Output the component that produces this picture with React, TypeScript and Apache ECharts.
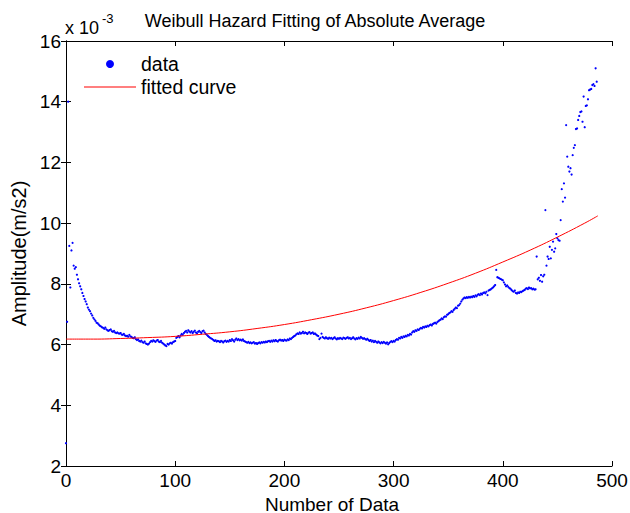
import React, { useEffect, useRef } from "react";
import * as echarts from "echarts";

// Amplitude values (x 10^-3 m/s2), one per data index 0..486
const amplitude: number[] = [
  2.75, 6.75, 14.0, 9.25, 7.88, 9.10, 9.35, 8.60, 8.50, 8.55,
  8.30, 8.15, 8.02, 7.92, 7.82, 7.70, 7.60, 7.50, 7.42, 7.33,
  7.22, 7.15, 7.10, 7.02, 6.96, 6.88, 6.83, 6.78, 6.72, 6.70,
  6.66, 6.62, 6.60, 6.57, 6.55, 6.52, 6.56, 6.50, 6.47, 6.45,
  6.48, 6.50, 6.44, 6.42, 6.45, 6.40, 6.38, 6.40, 6.37, 6.36,
  6.38, 6.33, 6.32, 6.35, 6.30, 6.28, 6.29, 6.26, 6.32, 6.27,
  6.25, 6.22, 6.21, 6.24, 6.18, 6.15, 6.17, 6.12, 6.10, 6.13,
  6.08, 6.06, 6.10, 6.04, 6.02, 6.00, 6.03, 6.08, 6.12, 6.10,
  6.14, 6.11, 6.09, 6.13, 6.15, 6.10, 6.08, 6.12, 6.06, 6.03,
  6.00, 5.97, 5.95, 6.02, 6.00, 6.04, 6.06, 6.03, 6.08, 6.10,
  6.12, 6.22, 6.25, 6.28, 6.24, 6.30, 6.35, 6.32, 6.38, 6.42,
  6.45, 6.40, 6.47, 6.43, 6.40, 6.44, 6.38, 6.42, 6.46, 6.40,
  6.37, 6.42, 6.45, 6.41, 6.38, 6.44, 6.46, 6.40, 6.35, 6.32,
  6.28, 6.25, 6.22, 6.20, 6.18, 6.15, 6.12, 6.14, 6.10, 6.12,
  6.11, 6.08, 6.12, 6.10, 6.07, 6.11, 6.13, 6.09, 6.12, 6.10,
  6.15, 6.12, 6.18, 6.14, 6.10, 6.16, 6.20, 6.15, 6.18, 6.14,
  6.16, 6.13, 6.17, 6.12, 6.10, 6.08, 6.06, 6.09, 6.05, 6.07,
  6.04, 6.06, 6.08, 6.03, 6.05, 6.02, 6.05, 6.07, 6.04, 6.08,
  6.06, 6.09, 6.07, 6.10, 6.08, 6.11, 6.12, 6.09, 6.13, 6.10,
  6.14, 6.11, 6.15, 6.12, 6.10, 6.14, 6.16, 6.13, 6.15, 6.12,
  6.16, 6.14, 6.13, 6.17, 6.15, 6.20, 6.18, 6.22, 6.25, 6.28,
  6.30, 6.34, 6.37, 6.35, 6.40, 6.36, 6.38, 6.42, 6.37, 6.40,
  6.38, 6.35, 6.39, 6.41, 6.36, 6.38, 6.40, 6.35, 6.37, 6.33,
  6.30, 6.28, 6.18, 6.22, 6.36, 6.25, 6.22, 6.20, 6.24, 6.21,
  6.19, 6.23, 6.20, 6.22, 6.18, 6.21, 6.24, 6.20, 6.17, 6.21,
  6.19, 6.22, 6.20, 6.18, 6.23, 6.21, 6.19, 6.22, 6.24, 6.20,
  6.22, 6.18, 6.21, 6.24, 6.20, 6.17, 6.21, 6.19, 6.23, 6.20,
  6.25, 6.22, 6.19, 6.21, 6.18, 6.16, 6.19, 6.15, 6.12, 6.15,
  6.10, 6.13, 6.08, 6.12, 6.09, 6.06, 6.10, 6.07, 6.04, 6.08,
  6.05, 6.09, 6.06, 6.03, 6.07, 6.01, 6.05, 6.09, 6.11, 6.08,
  6.12, 6.10, 6.15, 6.18, 6.16, 6.22, 6.20, 6.25, 6.22, 6.27,
  6.25, 6.29, 6.27, 6.32, 6.30, 6.35, 6.33, 6.40, 6.44, 6.42,
  6.47, 6.45, 6.50, 6.48, 6.52, 6.55, 6.53, 6.58, 6.56, 6.60,
  6.58, 6.62, 6.60, 6.64, 6.66, 6.63, 6.68, 6.70, 6.72, 6.69,
  6.74, 6.77, 6.80, 6.82, 6.86, 6.84, 6.90, 6.93, 6.92, 6.98,
  7.00, 7.04, 7.06, 7.10, 7.08, 7.14, 7.18, 7.22, 7.20, 7.28,
  7.30, 7.35, 7.42, 7.48, 7.52, 7.55, 7.53, 7.56, 7.54, 7.57,
  7.55, 7.58, 7.56, 7.60, 7.57, 7.62, 7.59, 7.64, 7.66, 7.63,
  7.68, 7.65, 7.70, 7.72, 7.69, 7.74, 7.63, 7.78, 7.80, 7.82,
  7.85, 7.88, 7.92, 7.96, 8.46, 8.22, 8.20, 8.18, 8.16, 8.14,
  8.12, 8.05, 7.98, 7.92, 7.95, 7.90, 7.86, 7.84, 7.80, 7.76,
  7.74, 7.78, 7.70, 7.68, 7.72, 7.70, 7.74, 7.73, 7.76, 7.78,
  7.80, 7.84, 7.86, 7.83, 7.88, 7.85, 7.86, 7.82, 7.84, 7.81,
  7.82, 8.90, 8.15, 8.20, 8.10, 8.29, 8.07, 8.25, 8.30, 10.43,
  8.60, 8.90, 8.82, 9.22, 8.84, 9.12, 9.39, 9.06, 9.17, 9.64,
  9.50, 9.44, 9.42, 10.10, 11.12, 10.71, 11.31, 10.84, 13.23, 12.19,
  11.86, 11.70, 11.81, 11.60, 12.24, 12.48, 12.57, 13.10, 13.12, 13.40,
  13.53, 13.66, 13.68, 13.34, 14.17, 13.16, 13.86, 13.88, 14.08, 14.38,
  14.40, 14.42, 14.55, 14.58, 14.52, 15.10, 14.66,
];

// Fitted Weibull hazard curve, read at sample positions
const fitX: number[] = [0, 25, 50, 75, 100, 125, 150, 175, 200, 225, 250, 275, 300, 325, 350, 375, 400, 425, 450, 475, 487];
const fitY: number[] = [6.18, 6.18, 6.20, 6.23, 6.27, 6.34, 6.42, 6.53, 6.66, 6.82, 7.00, 7.21, 7.45, 7.72, 8.02, 8.35, 8.72, 9.11, 9.54, 10.00, 10.24];

const xTicks = { min: 0, max: 500, interval: 100 };
const yTicks = { min: 2, max: 16, interval: 2 };

const FONT = "'Liberation Sans', Arial, Helvetica, sans-serif";

export default function App() {
  const ref = useRef<HTMLDivElement>(null);
  useEffect(() => {
    document.body.style.margin = "0";
    const chart = echarts.init(ref.current!, null, { renderer: "svg" });
    const axisLine = { show: true, lineStyle: { color: "#000", width: 1 } };
    const tick = { show: true, inside: true, length: 5, lineStyle: { color: "#000", width: 1 } };
    chart.setOption({
      animation: false,
      backgroundColor: "#ffffff",
      title: {
        text: "Weibull Hazard Fitting of Absolute Average",
        left: "center",
        top: 7,
        textStyle: { fontFamily: FONT, fontSize: 18, fontWeight: "normal", color: "#000" },
      },
      legend: {
        orient: "vertical",
        left: 79,
        top: 49,
        itemWidth: 52,
        itemHeight: 8,
        itemGap: 3,
        textStyle: { fontFamily: FONT, fontSize: 19.5, color: "#000" },
        data: [
          { name: "data", icon: "circle" },
          { name: "fitted curve", icon: "path://M0,0H52V1H0Z" },
        ],
      },
      grid: { left: 66, right: 18, top: 41, bottom: 47, containLabel: false, outerBoundsMode: "none" },
      xAxis: [
        {
          type: "value",
          ...xTicks,
          position: "bottom",
          name: "Number of Data",
          nameLocation: "middle",
          nameGap: 17,
          nameTextStyle: { fontFamily: FONT, fontSize: 19, lineHeight: 20, color: "#000", padding: [0, 14, 0, 0] },
          axisLine,
          axisTick: tick,
          splitLine: { show: false },
          axisLabel: { fontFamily: FONT, fontSize: 19, color: "#000", margin: 5 },
        },
        {
          type: "value",
          ...xTicks,
          position: "top",
          axisLine,
          axisTick: tick,
          splitLine: { show: false },
          axisLabel: { show: false },
        },
      ],
      yAxis: [
        {
          type: "value",
          ...yTicks,
          position: "left",
          name: "Amplitude(m/s2)",
          nameLocation: "middle",
          nameGap: 37,
          nameTextStyle: { fontFamily: FONT, fontSize: 20, color: "#000" },
          axisLine,
          axisTick: tick,
          splitLine: { show: false },
          axisLabel: { fontFamily: FONT, fontSize: 19, color: "#000", margin: 5 },
        },
        {
          type: "value",
          ...yTicks,
          position: "right",
          axisLine,
          axisTick: tick,
          splitLine: { show: false },
          axisLabel: { show: false },
        },
      ],
      graphic: [
        {
          type: "text",
          left: 65,
          top: 19,
          style: { text: "x 10", font: `18px ${FONT}`, fill: "#000" },
        },
        {
          type: "text",
          left: 102,
          top: 12,
          style: { text: "-3", font: `13px ${FONT}`, fill: "#000" },
        },
      ],
      series: [
        {
          name: "data",
          type: "scatter",
          symbol: "circle",
          symbolSize: 2.2,
          itemStyle: { color: "#0000ff", opacity: 1 },
          data: amplitude.map((v, i) => [i, v]),
          z: 2,
        },
        {
          name: "fitted curve",
          type: "line",
          smooth: true,
          symbol: "none",
          lineStyle: { color: "#ff0000", width: 1 },
          itemStyle: { color: "#ff0000" },
          data: fitX.map((x, i) => [x, fitY[i]]),
          z: 3,
        },
      ],
    });
    return () => chart.dispose();
  }, []);
  return <div ref={ref} style={{ width: 630, height: 513 }} />;
}
